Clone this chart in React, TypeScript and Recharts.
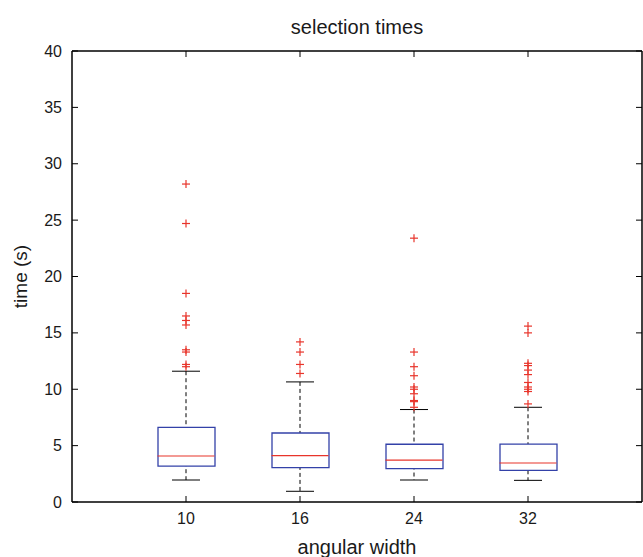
import { Bar, ComposedChart, Label, Scatter, XAxis, YAxis } from "recharts";

const categories = ["10", "16", "24", "32"];
const whiskerLow = [1.95, 0.95, 1.95, 1.92];
const q1 = [3.19, 3.05, 2.96, 2.81];
const medians = [4.08, 4.11, 3.72, 3.46];
const q3 = [6.62, 6.12, 5.12, 5.14];
const whiskerHigh = [11.6, 10.65, 8.2, 8.4];
const outliers = [
  [28.2, 24.7, 18.5, 16.5, 16.1, 15.7, 13.5, 13.3, 12.2, 12.0],
  [14.2, 13.3, 12.2, 11.4],
  [23.4, 13.3, 12.0, 11.2, 10.2, 10.0, 9.6, 9.0, 8.9, 8.4],
  [15.6, 15.0, 12.3, 12.1, 11.7, 11.3, 10.6, 10.2, 10.0, 9.8, 8.7],
];
const yTicks = [0, 5, 10, 15, 20, 25, 30, 35, 40];

const FONT = "'Liberation Sans', Arial, Helvetica, sans-serif";
const BLUE = "#3341a8";
const RED = "#e8342b";
const INK = "#1a1a1a";
const AXIS = { stroke: "#000", strokeWidth: 1.5 };
const PAD = { left: 57, right: 57 };
const TICK_LEN = 6;

const rows = categories.map((label, i) => ({
  label,
  whisker: [whiskerLow[i], whiskerHigh[i]],
  box: [q1[i], q3[i]],
  median: medians[i],
}));

const outlierRows = categories.flatMap((label, i) =>
  outliers[i].map(value => ({ label, value }))
);

// ticks point inwards, MATLAB style
function LeftTick({ x, y, payload }: any) {
  const ax = x + 10;
  return (
    <g>
      <line x1={ax} x2={ax + TICK_LEN} y1={y} y2={y} stroke="#000" />
      <text x={x} y={y} textAnchor="end" dominantBaseline="central" fontSize={16} fill={INK} fontFamily={FONT}>
        {payload.value}
      </text>
    </g>
  );
}

function RightTick({ x, y }: any) {
  return <line x1={x} x2={x - TICK_LEN} y1={y} y2={y} stroke="#000" />;
}

function TopTick({ x, y }: any) {
  return <line x1={x} x2={x} y1={y} y2={y + TICK_LEN} stroke="#000" />;
}

function BottomTick({ x, y, payload }: any) {
  const ay = y - 8;
  return (
    <g>
      <line x1={x} x2={x} y1={ay} y2={ay - TICK_LEN} stroke="#000" />
      <text x={x} y={ay + 16} textAnchor="middle" dominantBaseline="central" fontSize={16} fill={INK} fontFamily={FONT}>
        {payload.value}
      </text>
    </g>
  );
}

function WhiskerShape(props: any) {
  const { x, width } = props;
  const top = Math.min(props.y, props.y + props.height);
  const bottom = Math.max(props.y, props.y + props.height);
  const cx = x + width / 2;
  return (
    <g stroke="#000" strokeWidth={1}>
      <line x1={cx} x2={cx} y1={top} y2={bottom} strokeDasharray="4 3" />
      <line x1={x} x2={x + width} y1={top} y2={top} />
      <line x1={x} x2={x + width} y1={bottom} y2={bottom} />
    </g>
  );
}

function MedianShape({ cx, cy }: any) {
  return <line x1={cx - 28.5} x2={cx + 28.5} y1={cy} y2={cy} stroke={RED} strokeWidth={1.2} />;
}

function PlusShape({ cx, cy }: any) {
  return (
    <g stroke={RED} strokeWidth={1.2}>
      <line x1={cx - 4} x2={cx + 4} y1={cy} y2={cy} />
      <line x1={cx} x2={cx} y1={cy - 4} y2={cy + 4} />
    </g>
  );
}

const textStyle = { fontFamily: FONT, fontSize: 20, fill: INK };

export default function App() {
  return (
    <div style={{ position: "absolute", left: 0, top: 0, background: "#fff" }}>
      <ComposedChart width={643} height={557} data={rows} margin={{ top: 0, right: 0, bottom: 0, left: 0 }}>
        <XAxis
          xAxisId="top"
          orientation="top"
          dataKey="label"
          type="category"
          allowDuplicatedCategory={false}
          padding={PAD}
          height={51}
          tick={<TopTick />}
          tickSize={0}
          tickMargin={0}
          axisLine={AXIS}
          tickLine={false}
        >
          <Label
            content={({ viewBox }: any) => (
              <text x={viewBox.x + viewBox.width / 2} y={27} textAnchor="middle" dominantBaseline="central" style={textStyle}>
                selection times
              </text>
            )}
          />
        </XAxis>
        <XAxis
          xAxisId="bottom"
          dataKey="label"
          type="category"
          allowDuplicatedCategory={false}
          padding={PAD}
          height={55}
          tick={<BottomTick />}
          tickSize={0}
          tickMargin={8}
          axisLine={AXIS}
          tickLine={false}
        >
          <Label
            content={({ viewBox }: any) => (
              <text x={viewBox.x + viewBox.width / 2} y={viewBox.y + 45} textAnchor="middle" dominantBaseline="central" style={textStyle}>
                angular width
              </text>
            )}
          />
        </XAxis>
        <YAxis
          yAxisId="left"
          type="number"
          domain={[0, 40]}
          ticks={yTicks}
          interval={0}
          width={72}
          tick={<LeftTick />}
          tickSize={0}
          tickMargin={10}
          axisLine={AXIS}
          tickLine={false}
        >
          <Label
            content={({ viewBox }: any) => {
              const cx = 20;
              const cy = viewBox.y + viewBox.height / 2;
              return (
                <text x={cx} y={cy} textAnchor="middle" dominantBaseline="central" transform={`rotate(-90, ${cx}, ${cy})`} style={{ ...textStyle, fontSize: 19 }}>
                  time (s)
                </text>
              );
            }}
          />
        </YAxis>
        <YAxis
          yAxisId="right"
          orientation="right"
          type="number"
          domain={[0, 40]}
          ticks={yTicks}
          interval={0}
          width={1}
          tick={<RightTick />}
          tickSize={0}
          tickMargin={0}
          axisLine={AXIS}
          tickLine={false}
        />
        <Bar xAxisId="top" yAxisId="left" dataKey="whisker" barSize={28} shape={WhiskerShape} isAnimationActive={false} />
        <Bar xAxisId="bottom" yAxisId="right" dataKey="box" barSize={57} fill="#fff" stroke={BLUE} strokeWidth={1.3} isAnimationActive={false} />
        <Scatter xAxisId="bottom" yAxisId="left" dataKey="median" shape={MedianShape} isAnimationActive={false} />
        <Scatter xAxisId="bottom" yAxisId="left" data={outlierRows} dataKey="value" shape={PlusShape} isAnimationActive={false} />
      </ComposedChart>
    </div>
  );
}
